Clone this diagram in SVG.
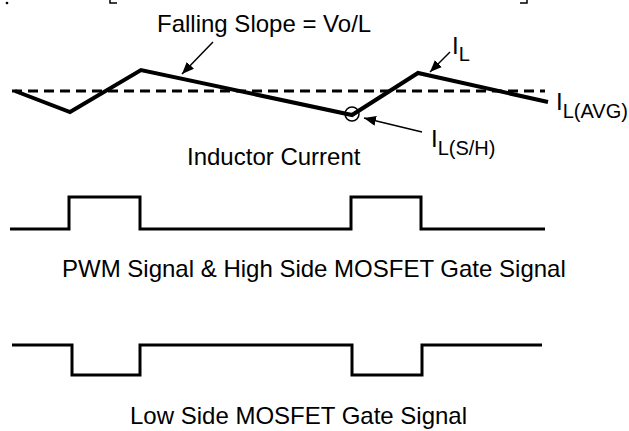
<svg xmlns="http://www.w3.org/2000/svg" width="629" height="431" viewBox="0 0 629 431">
<defs>
<style>
.t{font-family:"Liberation Sans",Arial,sans-serif;font-size:24px;fill:#000}
.s{font-size:20px}
.w{fill:none;stroke:#000;stroke-linejoin:miter;stroke-linecap:butt}
.a{stroke:#000;stroke-width:1.5;fill:none}
</style>
<marker id="ah" viewBox="0 0 12 10" refX="12" refY="5" markerWidth="12" markerHeight="10" markerUnits="userSpaceOnUse" orient="auto">
<path d="M0,0 L12,5 L0,10 z" fill="#000"/>
</marker>
</defs>
<rect width="629" height="431" fill="#fff"/>
<g id="frame-marks" class="a" stroke-width="1">
<path d="M110,0 V3 H117"/>
<path d="M520,3 H527 V0"/>
<circle cx="7" cy="3" r="0.6" fill="#000"/>
</g>
<g id="avg-line">
<line x1="12" y1="91" x2="545" y2="91" class="w" stroke-width="3" stroke-dasharray="10,6"/>
</g>
<g id="inductor-current">
<polyline class="w" stroke-width="4" points="15,91 70,112 141,70 352,115 418,73 548,102"/>
<circle cx="352" cy="114" r="7" fill="none" stroke="#000" stroke-width="1.5"/>
<text class="t" x="187" y="165">Inductor Current</text>
</g>
<g id="pwm-signal">
<polyline class="w" stroke-width="3" points="10,229 69,229 69,197 140,197 140,229 351,229 351,197 421,197 421,229 545,229"/>
<text class="t" x="62" y="277">PWM Signal &amp; High Side MOSFET Gate Signal</text>
</g>
<g id="low-side-signal">
<polyline class="w" stroke-width="3" points="12,345 72,345 72,375 140,375 140,345 352,345 352,375 422,375 422,345 542,345"/>
<text class="t" x="130" y="424">Low Side MOSFET Gate Signal</text>
</g>
<g id="labels">
<text class="t" x="157" y="32">Falling Slope = Vo/L</text>
<text class="t" x="452" y="54">I<tspan class="s" dy="7">L</tspan></text>
<text class="t" x="556" y="110">I<tspan class="s" dy="8">L(AVG)</tspan></text>
<text class="t" x="431" y="147">I<tspan class="s" dy="8">L(S/H)</tspan></text>
</g>
<g id="connectors">
<line class="a" x1="213" y1="42" x2="182" y2="74" marker-end="url(#ah)"/>
<line class="a" x1="450" y1="52" x2="430" y2="72" marker-end="url(#ah)"/>
<line class="a" x1="422" y1="132" x2="364" y2="118" marker-end="url(#ah)"/>
</g>
</svg>
